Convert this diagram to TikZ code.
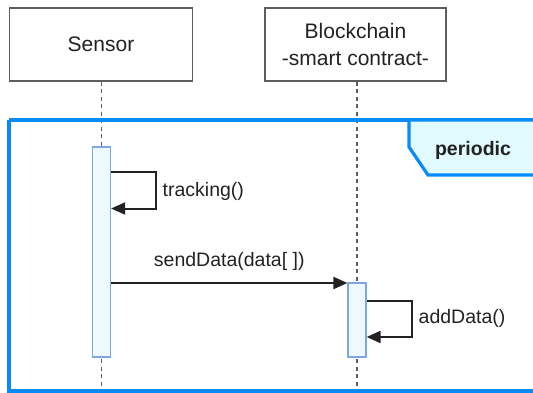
\documentclass[tikz,border=0pt]{standalone}
\usepackage{fontspec}
\setmainfont{Liberation Sans}
\usetikzlibrary{arrows.meta,calc}
\definecolor{framblue}{HTML}{078BFA}
\definecolor{tabfill}{HTML}{E0FAFF}
\definecolor{actfill}{HTML}{EEF8FF}
\definecolor{actline}{HTML}{7EA6E0}
\definecolor{boxline}{HTML}{5E5E5E}
\definecolor{inktext}{HTML}{222222}
\tikzset{
  participant/.style={draw=boxline, line width=1.4pt, fill=white, minimum height=73pt,
    align=center, text=inktext, font=\fontsize{21}{27}\selectfont, inner sep=0pt},
  activation/.style={draw=actline, line width=1.2pt, fill=actfill, minimum width=18pt, inner sep=0pt},
  lifeline/.style={draw=boxline, line width=1.3pt, dash pattern=on 4pt off 3.5pt},
  msg/.style={draw=inktext, line width=2pt, -{Triangle[length=14pt,width=12pt]}},
  msglabel/.style={text=inktext, font=\fontsize{19.5}{23}\selectfont, inner sep=0pt},
  fragment/.style={draw=framblue, line width=3.2pt},
}
\begin{document}
\begin{tikzpicture}[x=1pt,y=-1pt]
\useasboundingbox (0,0) rectangle (533,393);

% participants
\node[participant, minimum width=183pt] (sensor) at (101,44.5) {Sensor};
\node[participant, minimum width=181pt] (chain) at (355.5,44.5) {Blockchain\\-smart contract-};

% lifelines
\coordinate (sensorend) at (101.5,395);
\coordinate (chainend) at (357,395);
\draw[lifeline] (sensor.south -| sensorend) -- (sensorend);
\draw[lifeline] (chain.south -| chainend) -- (chainend);

% combined fragment with its tab
\draw[fragment] (9,120) -- (540,120);
\draw[fragment] (9,120) -- (9,391) -- (540,391);
\draw[fragment, fill=tabfill, line join=miter] (409,120) -- (409,147) -- (428,175) -- (540,175) -- (540,120) -- cycle;
\node[font=\fontsize{19.5}{23}\selectfont\bfseries, text=inktext, inner sep=0pt] (period) at (473,150) {periodic};

% activation bars
\node[activation, minimum height=210pt] (sact) at (101.5,252) {};
\node[activation, minimum height=74pt] (cact) at (357,320) {};

% tracking() self call
\coordinate (t1) at (156,172);
\coordinate (t2) at (156,208.5);
\draw[msg, line join=miter] (sact.east |- t1) -- (t1) -- (t2) -- (sact.east |- t2);
\node[msglabel, anchor=west] (tracklbl) at (162.5,191.5) {tracking()};

% sendData message
\coordinate (s1) at (0,283);
\draw[msg] (sact.east |- s1) -- (cact.west |- s1)
  node[msglabel, midway, above=11pt] (sendlbl) {sendData(data[ ])};

% addData() self call
\coordinate (a1) at (411.5,301);
\coordinate (a2) at (411.5,337);
\draw[msg, line join=miter] (cact.east |- a1) -- (a1) -- (a2) -- (cact.east |- a2);
\node[msglabel, anchor=west] (addlbl) at (418.5,318.5) {addData()};
\end{tikzpicture}
\end{document}
